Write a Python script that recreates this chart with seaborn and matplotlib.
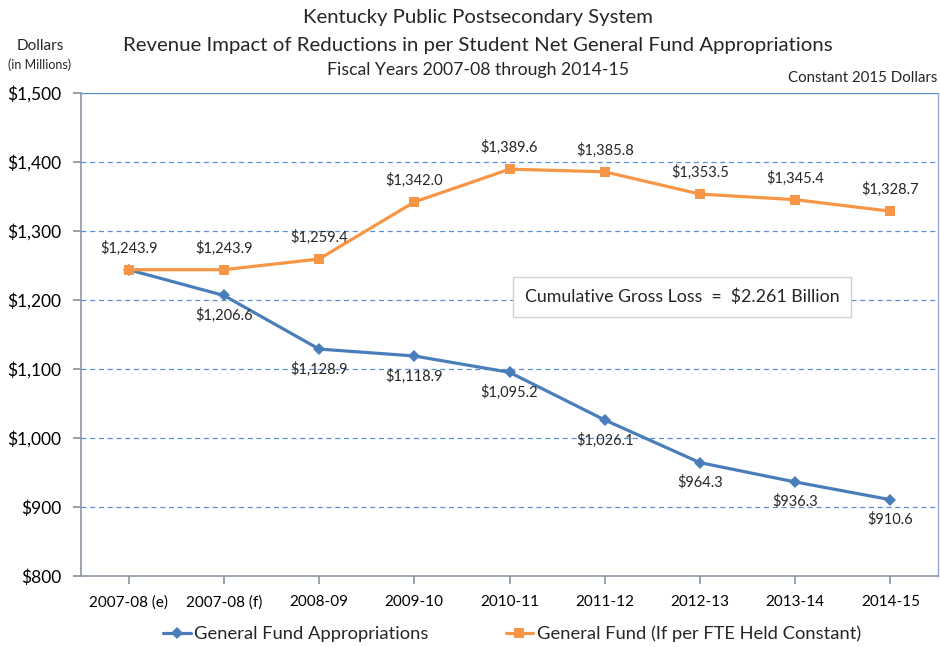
import matplotlib
matplotlib.use("Agg")
import matplotlib.pyplot as plt
import seaborn as sns
import pandas as pd
from matplotlib.lines import Line2D

categories = ["2007-08 (e)", "2007-08 (f)", "2008-09", "2009-10", "2010-11",
              "2011-12", "2012-13", "2013-14", "2014-15"]
appropriations = [1243.9, 1206.6, 1128.9, 1118.9, 1095.2, 1026.1, 964.3, 936.3, 910.6]
held_constant = [1243.9, 1243.9, 1259.4, 1342.0, 1389.6, 1385.8, 1353.5, 1345.4, 1328.7]
series_names = ["General Fund Appropriations", "General Fund (If per FTE Held Constant)"]
y_ticks = [800, 900, 1000, 1100, 1200, 1300, 1400, 1500]

sns.set_theme(style="white")
plt.rcParams['font.family'] = ['Lato', 'DejaVu Sans']

BLUE = "#4A7EBB"
ORANGE = "#F79646"
GRID = "#5B8FD6"

df = pd.DataFrame({
    "Year": categories * 2,
    "Value": appropriations + held_constant,
    "Series": [series_names[0]] * len(categories) + [series_names[1]] * len(categories),
})

fig = plt.figure(figsize=(9.4, 6.47), dpi=100)
ax = fig.add_axes([81 / 940, 1 - 576 / 647, (938 - 81) / 940, (576 - 93) / 647])

sns.lineplot(data=df, x="Year", y="Value", hue="Series", style="Series",
             markers={series_names[0]: "D", series_names[1]: "s"},
             dashes=False, palette={series_names[0]: BLUE, series_names[1]: ORANGE},
             linewidth=2.3, markersize=6.5, markeredgewidth=0, ax=ax, legend=False,
             sort=False)

ax.set_xlim(-0.5, len(categories) - 0.5)
ax.set_ylim(800, 1500)
ax.set_yticks(y_ticks)
ax.set_yticklabels([f"${v:,}" for v in y_ticks], fontsize=12.5)
ax.set_xticks(range(len(categories)))
ax.set_xticklabels(categories, fontsize=11)
ax.set_xlabel("")
ax.set_ylabel("")
for y in y_ticks[1:-1]:
    ax.axhline(y, color=GRID, linestyle=(0, (4, 3)), linewidth=0.9, zorder=0)
ax.axhline(1500, color=GRID, linewidth=1.0, zorder=0)

for side in ["left", "bottom"]:
    ax.spines[side].set_color("#8C96A3")
    ax.spines[side].set_linewidth(1.2)
ax.spines["right"].set_color("#8FAADC")
ax.spines["right"].set_linewidth(1.0)
ax.spines["top"].set_visible(False)
ax.tick_params(axis="x", direction="out", length=6, color="#8C96A3", pad=8, labelcolor="black")
ax.tick_params(axis="y", direction="out", length=6, color="#8C96A3", pad=8, labelcolor="black")
ax.tick_params(axis="x", which="both", bottom=True)
ax.tick_params(axis="y", which="both", left=True)

# data labels
for i, v in enumerate(held_constant):
    ax.annotate(f"${v:,.1f}", (i, v), xytext=(0, 10), textcoords="offset points",
                ha="center", va="bottom", fontsize=10.5)
for i, v in enumerate(appropriations):
    if i == 0:
        continue
    ax.annotate(f"${v:,.1f}", (i, v), xytext=(0, -9), textcoords="offset points",
                ha="center", va="top", fontsize=10.5)

# annotation box
ax.text(5.81, 1204, "Cumulative Gross Loss  =  $2.261 Billion", ha="center", va="center",
        fontsize=12.8, bbox=dict(boxstyle="square,pad=0.65", fc="white", ec="#D0D0D0", lw=1))

# titles
cx = 478 / 940
fig.text(cx, 1 - 17 / 647, "Kentucky Public Postsecondary System", ha="center", va="center", fontsize=14.6)
fig.text(cx, 1 - 45 / 647, "Revenue Impact of Reductions in per Student Net General Fund Appropriations",
         ha="center", va="center", fontsize=14.7)
fig.text(cx, 1 - 70 / 647, "Fiscal Years 2007-08 through 2014-15", ha="center", va="center", fontsize=12.7)
fig.text(40 / 940, 1 - 46 / 647, "Dollars", ha="center", va="center", fontsize=11)
fig.text(40 / 940, 1 - 65 / 647, "(in Millions)", ha="center", va="center", fontsize=9)
fig.text(937 / 940, 1 - 78 / 647, "Constant 2015 Dollars", ha="right", va="center", fontsize=10.8)

# legend
handles = [Line2D([0], [0], color=BLUE, lw=2.3, marker="D", markersize=6.5, markeredgewidth=0),
           Line2D([0], [0], color=ORANGE, lw=2.3, marker="s", markersize=6.5, markeredgewidth=0)]
fig.legend(handles, series_names, loc="center", bbox_to_anchor=(512 / 940, 1 - 634 / 647), ncol=2,
           frameon=False, fontsize=13.2, handlelength=1.5, columnspacing=4.2, handletextpad=0.2)

fig.savefig("out.png", dpi=100)
